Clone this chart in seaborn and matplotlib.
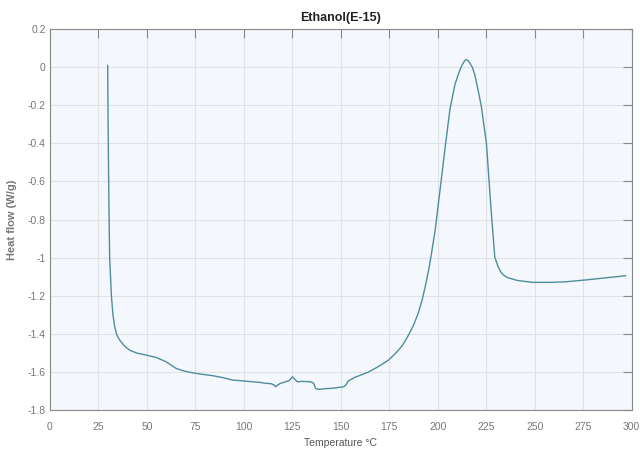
"""
DSC curve - Ethanol(E-15)
"""

import matplotlib
matplotlib.use('Agg')
import matplotlib.pyplot as plt
from matplotlib import font_manager
import seaborn as sns
import pandas as pd

# temperature (deg C) and heat flow (W/g)
temperature = [29.8, 30.0, 30.4, 30.8, 31.7, 32.5, 33.4, 34.6, 36.0, 38.5, 41.1, 45.0, 49.7,
               54.8, 59.9, 65.1, 69.0, 73.6, 78.0, 83.9, 89.0, 94.2, 99.0, 104.4, 108.0,
               111.3, 114.0, 115.6, 116.4, 117.5, 119.0, 121.5, 123.5, 125.0, 126.2, 127.6,
               130.0, 134.4, 136.0, 137.0, 138.7, 142.0, 146.0, 151.5, 152.5, 154.0, 157.0,
               160.0, 164.4, 168.0, 171.0, 174.6, 177.0, 179.8, 182.5, 184.9, 187.5, 190.0,
               192.0, 193.8, 195.4, 196.9, 198.6, 201.0, 203.7, 206.3, 208.9, 210.5, 211.8,
               213.0, 214.0, 214.7, 215.5, 216.5, 217.8, 219.1, 220.8, 222.5, 225.1, 227.5,
               229.4, 231.0, 232.5, 233.7, 236.0, 241.0, 249.0, 258.5, 266.0, 275.6, 285.0,
               295.3, 297.0]
heat_flow = [0.01, -0.3, -0.7, -1.0, -1.2, -1.3, -1.363, -1.41, -1.433, -1.465, -1.486,
             -1.502, -1.512, -1.524, -1.547, -1.582, -1.595, -1.605, -1.612, -1.62, -1.63,
             -1.643, -1.647, -1.652, -1.655, -1.66, -1.662, -1.669, -1.678, -1.668, -1.66,
             -1.652, -1.645, -1.626, -1.638, -1.652, -1.65, -1.652, -1.66, -1.687, -1.692,
             -1.688, -1.686, -1.678, -1.67, -1.647, -1.63, -1.618, -1.6, -1.58, -1.562,
             -1.538, -1.515, -1.486, -1.45, -1.407, -1.355, -1.29, -1.22, -1.14, -1.06,
             -0.97, -0.86, -0.66, -0.43, -0.22, -0.09, -0.04, -0.005, 0.02, 0.035, 0.04,
             0.036, 0.022, 0.0, -0.04, -0.12, -0.208, -0.4, -0.75, -0.996, -1.045, -1.075,
             -1.09, -1.105, -1.12, -1.13, -1.13, -1.127, -1.118, -1.108, -1.097, -1.095]

df = pd.DataFrame({'Temperature': temperature, 'Heat flow': heat_flow})

available = {f.name for f in font_manager.fontManager.ttflist}
narrow = 'Liberation Sans Narrow' if 'Liberation Sans Narrow' in available else 'Liberation Sans'
tick_size = 8.5 if narrow == 'Liberation Sans Narrow' else 7.5

sns.set_style('whitegrid')
plt.rcParams['font.family'] = [narrow, 'DejaVu Sans']

fig = plt.figure(figsize=(6.4, 4.54), dpi=100)
ax = fig.add_axes([0.078, 0.097, 0.909, 0.839])
ax.set_facecolor('#f4f8fc')

sns.lineplot(data=df, x='Temperature', y='Heat flow', ax=ax, color='#4e8d9c',
             linewidth=1.0, sort=False, estimator=None)

ax.set_xlim(0, 300)
ax.set_ylim(-1.8, 0.2)
ax.set_xticks(range(0, 301, 25))
ax.set_yticks([-1.8, -1.6, -1.4, -1.2, -1, -0.8, -0.6, -0.4, -0.2, 0, 0.2])
ax.set_yticklabels(['-1.8', '-1.6', '-1.4', '-1.2', '-1', '-0.8', '-0.6', '-0.4', '-0.2', '0', '0.2'])
ax.grid(True, color='#dfe3e8', linewidth=0.8)

ax.tick_params(direction='in', top=True, right=True, length=6.5, width=0.8,
               color='#888888', labelcolor='#777777', labelsize=tick_size)
ax.tick_params(axis='x', pad=9)
ax.tick_params(axis='y', pad=3)
for s in ax.spines.values():
    s.set_visible(True)
    s.set_color('#888888')
    s.set_linewidth(0.8)

ax.set_title('Ethanol(E-15)', fontsize=9, fontweight='bold', color='#222222', pad=6)
ax.set_xlabel('Temperature °C', fontsize=tick_size, color='#555555', labelpad=4)
ax.set_ylabel('Heat flow (W/g)', fontsize=8, color='#777777', fontweight='bold',
              family=['Liberation Sans', 'DejaVu Sans'])
ax.yaxis.set_label_coords(-0.057, 0.5)

plt.savefig('out.png', dpi=100)
plt.close()
